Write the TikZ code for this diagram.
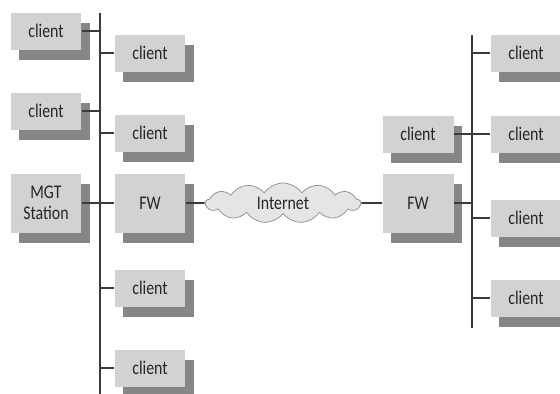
\documentclass[tikz,border=0pt]{standalone}
\usepackage{fontspec}
\setmainfont{Carlito}[FakeStretch=0.82]
\usetikzlibrary{shapes.symbols,shadows}
\definecolor{boxgray}{HTML}{D2D2D2}
\definecolor{shadegray}{HTML}{868686}
\definecolor{linegray}{HTML}{3A3A3A}
\tikzset{
  host/.style={rectangle,fill=boxgray,minimum width=1.42cm,minimum height=0.74cm,
    inner sep=1pt,font=\fontsize{11}{12}\selectfont,text=black!85,align=center,
    drop shadow={shadow xshift=0.17cm,shadow yshift=-0.2cm,fill=shadegray,opacity=1}},
  tall/.style={minimum height=1.18cm},
  net/.style={cloud,cloud puffs=13,cloud puff arc=110,aspect=4,draw=black!45,
    fill=black!10,minimum width=3.1cm,minimum height=0.8cm,inner sep=0pt,
    font=\fontsize{11}{12}\selectfont,text=black!85},
  bus/.style={draw=linegray,line width=1.1pt},
  link/.style={draw=linegray,line width=0.9pt}
}
\begin{document}
\begin{tikzpicture}[x=0.02cm,y=-0.02cm]
\clip (0,0) rectangle (560,393);
% left network
\coordinate (lbusT) at (100,13);
\coordinate (lbusB) at (100,395);
\node[host] (lc1) at (46,31) {client};
\node[host] (lc2) at (150,53) {client};
\node[host] (lc3) at (46,111) {client};
\node[host] (lc4) at (150,133) {client};
\node[host,tall] (mgt) at (46,203) {MGT\\Station};
\node[host,tall] (fw1) at (150,203) {FW};
\node[host] (lc5) at (150,288) {client};
\node[host] (lc6) at (150,368) {client};
\draw[bus] (lbusT) -- (lbusB);
\draw[link] (lc1.east) -- (lc1.east -| lbusT);
\draw[link] (lc3.east) -- (lc3.east -| lbusT);
\draw[link] (mgt.east) -- (fw1.west);
\foreach \n in {lc2,lc4,lc5,lc6}
  \draw[link] (\n.west -| lbusT) -- (\n.west);
% internet
\node[net] (inet) at (283,203) {Internet};
% right network
\coordinate (rbusT) at (472,35);
\coordinate (rbusB) at (472,328);
\node[host] (rc0) at (418,134) {client};
\node[host,tall] (fw2) at (418,203) {FW};
\node[host] (rc1) at (526,53) {client};
\node[host] (rc2) at (526,134) {client};
\node[host] (rc3) at (526,218) {client};
\node[host] (rc4) at (526,298) {client};
\draw[bus] (rbusT) -- (rbusB);
\draw[link] (rc0.east) -- (rc2.west);
\draw[link] (fw2.east) -- (fw2.east -| rbusT);
\foreach \n in {rc1,rc3,rc4}
  \draw[link] (\n.west -| rbusT) -- (\n.west);
\draw[link] (fw1.east) -- (inet.west);
\draw[link] (inet.east) -- (fw2.west);
\end{tikzpicture}
\end{document}
